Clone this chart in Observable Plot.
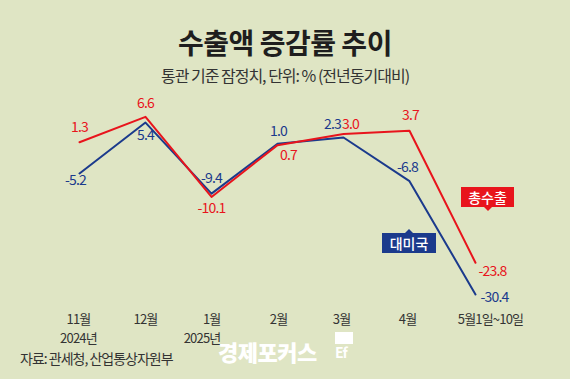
<!DOCTYPE html>
<html><head><meta charset="utf-8">
<script src="https://cdn.jsdelivr.net/npm/d3@7"></script>
<script src="https://cdn.jsdelivr.net/npm/@observablehq/plot@0.6"></script>
<style>
body{margin:0;background:#dfe5c4;font-family:"Noto Sans CJK KR","Noto Sans",sans-serif;}
#wrap{position:relative;width:570px;height:379px;overflow:hidden;background:#dfe5c4;}
#title{position:absolute;top:24px;left:0;width:570px;text-align:center;font-size:28px;font-weight:700;color:#1e1e1e;line-height:36px;letter-spacing:-0.5px;}
#subtitle{position:absolute;top:64px;left:0;width:570px;text-align:center;font-size:16px;color:#333;line-height:22px;letter-spacing:-1px;}
#chart{position:absolute;top:90px;left:0;}
#source{position:absolute;left:20px;top:348px;font-size:14px;color:#333;line-height:20px;letter-spacing:-1px;}
#wm{position:absolute;left:218px;top:336px;font-size:22px;font-weight:900;color:#fff;line-height:30px;letter-spacing:-0.5px;}
#logo{position:absolute;left:335px;top:332px;width:18px;height:28px;}
#logo .top{height:12px;background:#fff;}
#logo .bot{font-size:14px;font-weight:700;color:#fff;line-height:16px;letter-spacing:-1px;}
.tag{position:absolute;height:20px;line-height:20px;font-size:14px;color:#fff;text-align:center;font-weight:500;}
.tag:after{content:"";position:absolute;left:50%;margin-left:-4px;border-left:4px solid transparent;border-right:4px solid transparent;}
#tagTotal{left:461px;top:187px;width:53px;background:#e8141c;}
#tagTotal:after{top:20px;border-top:4px solid #e8141c;}
#tagUsa{left:382px;top:233px;width:54px;background:#1b3a8c;}
#tagUsa:after{top:-4px;border-bottom:4px solid #1b3a8c;}
</style></head>
<body>
<div id="wrap">
  <div id="title">수출액 증감률 추이</div>
  <div id="subtitle">통관 기준 잠정치, 단위: % (전년동기대비)</div>
  <div id="chart"></div>
  <div id="tagTotal" class="tag">총수출</div>
  <div id="tagUsa" class="tag">대미국</div>
  <div id="wm">경제포커스</div>
  <div id="logo"><div class="top"></div><div class="bot">Ef</div></div>
  <div id="source">자료: 관세청, 산업통상자원부</div>
</div>
<script>
const months = ["11월","12월","1월","2월","3월","4월","5월1일~10일"];
const years = ["2024년","","2025년","","","",""];
const totalExports = [1.3, 6.6, -10.1, 0.7, 3.0, 3.7, -23.8];
const usExports = [-5.2, 5.4, -9.4, 1.0, 2.3, -6.8, -30.4];

const RED = "#e8141c", BLUE = "#1b3a8c";
const rows = months.map((m, i) => ({m, year: years[i], total: totalExports[i], usa: usExports[i]}));

// label placement (pixel offsets from each point)
const redOff = [[0,-15],[0,-13],[0,12],[11,10],[7,-10],[1,-15],[17,9]];
const blueOff = [[-4,7],[0,13],[0,-15],[1,-12],[-11,-13],[-2,-14],[19,3]];
const monthDx = [-1,0,9,1,-2,-2,15];
const monthAnchor = ["middle","middle","end","middle","middle","middle","middle"];

const fmt = v => v.toFixed(1);
const marks = [
  Plot.line(rows, {x: "m", y: "usa", stroke: BLUE, strokeWidth: 2}),
  Plot.line(rows, {x: "m", y: "total", stroke: RED, strokeWidth: 2}),
];
rows.forEach((r, i) => {
  marks.push(Plot.text([r], {x: "m", y: "total", text: d => fmt(d.total), fill: RED, fontSize: 14, dx: redOff[i][0], dy: redOff[i][1]}));
  marks.push(Plot.text([r], {x: "m", y: "usa", text: d => fmt(d.usa), fill: BLUE, fontSize: 14, dx: blueOff[i][0], dy: blueOff[i][1]}));
  marks.push(Plot.text([r], {
    x: "m", text: d => d.year ? d.m + "\n" + d.year : d.m,
    frameAnchor: "bottom", lineAnchor: "top", lineHeight: 1.45, dy: -35,
    dx: monthDx[i], textAnchor: monthAnchor[i], fill: "#333", fontSize: 13
  }));
});

const chart = Plot.plot({
  width: 570,
  height: 255,
  marginTop: 0, marginBottom: 0, marginLeft: 0, marginRight: 0,
  style: {background: "transparent", fontFamily: "'Noto Sans CJK KR', sans-serif", letterSpacing: "-0.8px", overflow: "visible"},
  x: {type: "point", domain: months, range: [77, 477], padding: 0, axis: null},
  y: {domain: [-30, 5], range: [202, 34], axis: null},
  marks
});
document.getElementById("chart").appendChild(chart);
</script>
</body></html>
